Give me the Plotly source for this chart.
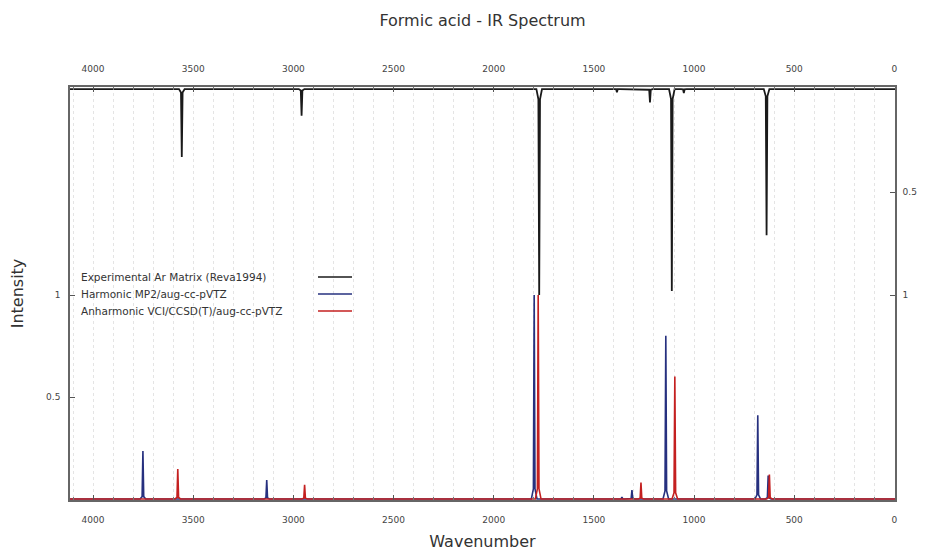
import plotly.graph_objects as go

# ---------------- data ----------------
# Experimental Ar matrix (Reva1994): peak centres (cm-1) and intensities (plotted downward from top)
exp_centers = [3557, 2959, 1773, 1385, 1220, 1051, 1111, 638]
exp_heights = [0.33, 0.13, 1.00, 0.015, 0.065, 0.02, 0.98, 0.71]

# Harmonic MP2/aug-cc-pVTZ
harm_centers = [3751, 3133, 1798, 1360, 1310, 1141, 682, 630]
harm_heights = [0.235, 0.093, 1.00, 0.01, 0.044, 0.80, 0.41, 0.115]

# Anharmonic VCI/CCSD(T)/aug-cc-pVTZ
anh_centers = [3577, 2944, 1778, 1265, 1096, 624]
anh_heights = [0.147, 0.069, 1.00, 0.08, 0.60, 0.12]

x_ticks = [0, 500, 1000, 1500, 2000, 2500, 3000, 3500, 4000]
y_ticks = [0.5, 1]
legend_names = ["Experimental Ar Matrix (Reva1994)",
                "Harmonic MP2/aug-cc-pVTZ",
                "Anharmonic VCI/CCSD(T)/aug-cc-pVTZ"]

X_MAX, X_MIN = 4115, -3


def stick_spectrum(centers, heights):
    """Build a polyline of narrow spikes on a zero baseline from a peak list."""
    pts = sorted(zip(centers, heights), reverse=True)
    xs, ys = [X_MAX], [0.0]
    for c, h in pts:
        xs += [c + 14, c + 4, c, c - 4, c - 14]
        ys += [0.0, 0.05 * h, h, 0.05 * h, 0.0]
    xs.append(X_MIN)
    ys.append(0.0)
    return xs, ys


COL_EXP = "#1a1a1a"
COL_HARM = "#26307f"
COL_ANH = "#c42020"
FONT = "DejaVu Sans, Liberation Sans, sans-serif"

# page body has an 8px margin: figure coordinates = screen coordinates - 8
OFF = 8
W, H = 925 - OFF, 551 - OFF
plot_top, plot_bottom, plot_left, plot_right = 87, 500, 70, 895  # screen px

fig = go.Figure()

ex, ey = stick_spectrum(exp_centers, exp_heights)
hx, hy = stick_spectrum(harm_centers, harm_heights)
ax, ay = stick_spectrum(anh_centers, anh_heights)

fig.add_trace(go.Scatter(x=hx, y=hy, mode="lines", name=legend_names[1],
                         line=dict(color=COL_HARM, width=1.6), xaxis="x", yaxis="y"))
fig.add_trace(go.Scatter(x=ax, y=ay, mode="lines", name=legend_names[2],
                         line=dict(color=COL_ANH, width=1.6), xaxis="x", yaxis="y"))
fig.add_trace(go.Scatter(x=ex, y=ey, mode="lines", name=legend_names[0],
                         line=dict(color=COL_EXP, width=1.8), xaxis="x2", yaxis="y2"))

tickfont = dict(family=FONT, size=9, color="#444444")
common_x = dict(
    range=[X_MAX, X_MIN], tickvals=x_ticks, ticktext=[str(v) for v in x_ticks],
    ticks="inside", ticklen=5, tickcolor="#555555", tickfont=tickfont,
    showline=True, linecolor="#666666", linewidth=1.5, zeroline=False, automargin=False,
    minor=dict(dtick=100, tick0=0, ticks="inside", ticklen=3, tickcolor="#777777",
               showgrid=True, gridcolor="#e4e4e4", griddash="dot", gridwidth=1),
)

fig.update_layout(
    width=W, height=H,
    margin=dict(l=plot_left - OFF, r=W - (plot_right - OFF), t=plot_top - OFF,
                b=H - (plot_bottom - OFF), autoexpand=False),
    paper_bgcolor="white", plot_bgcolor="white",
    showlegend=False,
    font=dict(family=FONT, color="#333333"),
    title=dict(text="Formic acid - IR Spectrum", x=0.5, xref="paper", xanchor="center",
               y=1 - (20 - OFF) / H, yref="container", yanchor="middle",
               font=dict(family=FONT, size=16, color="#333333")),
    xaxis=dict(**common_x, side="bottom", showgrid=True, gridcolor="#e4e4e4", griddash="dot",
               ticklabelstandoff=10,
               title=dict(text="Wavenumber", font=dict(family=FONT, size=16, color="#333333"),
                          standoff=14)),
    xaxis2=dict(**common_x, side="top", overlaying="x", showgrid=False, ticklabelstandoff=10),
    yaxis=dict(range=[-0.005, 2.02], tickvals=y_ticks, ticktext=["0.5", "1"],
               ticks="inside", ticklen=5, tickcolor="#555555", tickfont=tickfont,
               showline=True, linecolor="#666666", linewidth=1.5, showgrid=False, zeroline=False,
               ticklabelstandoff=6, automargin=False,
               title=dict(text="Intensity", font=dict(family=FONT, size=16, color="#333333"),
                          standoff=20)),
    yaxis2=dict(range=[1.995, -0.01], overlaying="y", side="right", tickvals=y_ticks,
                ticktext=["0.5", "1"], ticks="inside", ticklen=5, tickcolor="#555555",
                tickfont=tickfont, showline=True, linecolor="#666666", linewidth=1.5,
                showgrid=False, zeroline=False, ticklabelstandoff=4, automargin=False),
)

# gnuplot-style key: text on the left, line sample on the right
ph = plot_bottom - plot_top
pw = plot_right - plot_left
key_rows_px = [277, 294, 311]
key_cols = [COL_EXP, COL_HARM, COL_ANH]
for name, ypx, col in zip(legend_names, key_rows_px, key_cols):
    yp = (plot_bottom - ypx) / ph
    fig.add_annotation(x=(79 - plot_left) / pw, y=yp, xref="paper", yref="paper",
                       text=name, showarrow=False, xanchor="left", yanchor="middle",
                       font=dict(family=FONT, size=10.5, color="#333333"))
    fig.add_shape(type="line", xref="paper", yref="paper",
                  x0=(318 - plot_left) / pw, x1=(352 - plot_left) / pw, y0=yp, y1=yp,
                  line=dict(color=col, width=1.5))

fig.write_html("out.html")
